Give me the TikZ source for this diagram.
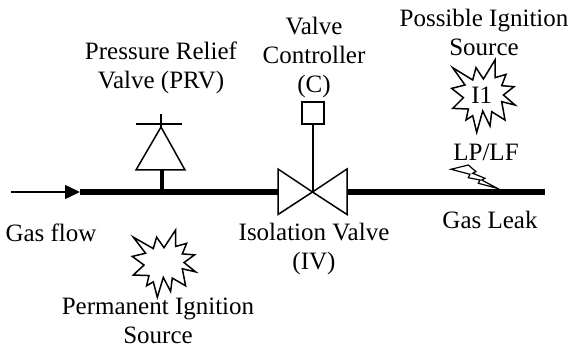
\documentclass[tikz,border=0pt]{standalone}
\usepackage{fontspec}
\setmainfont{Liberation Serif}
\usetikzlibrary{arrows.meta, calc}
\tikzset{
  label text/.style={align=center, inner sep=0pt, font=\fontsize{25}{29}\selectfont},
  thin line/.style={line width=1.5pt, line join=miter},
  pipe/.style={line width=6pt, line cap=butt},
  burst/.pic={
    \draw[thin line] (-29,-28) -- (-9,-15.7) -- (-5.7,-28) -- (1.7,-16.7) -- (13.3,-35.7) -- (13.3,-18)
      -- (24.3,-21.3) -- (20,-10) -- (32.3,-9) -- (21.7,-0.7) -- (33.3,9.3) -- (20,6) -- (23.3,24.3)
      -- (10,16) -- (8.3,30.3) -- (1,15.3) -- (-5,36.7) -- (-9,20) -- (-15.7,24.3) -- (-13.3,13.3)
      -- (-29,12.7) -- (-18.3,2) -- (-30,-7.3) -- (-16.7,-10.7) -- cycle;
  }
}

\begin{document}
\begin{tikzpicture}[x=1pt, y=-1pt]
  \useasboundingbox (0,0) rectangle (569,347);

  % pipe and flow arrow
  \coordinate (flow) at (11,192);
  \coordinate (pipeL) at (80,192);
  \coordinate (pipeR) at (545,192);
  \coordinate (valveL) at (278,192);
  \coordinate (valveR) at (347,192);
  \coordinate (valve) at (312.5,192);
  \draw[pipe] (pipeL) -- (valveL);
  \draw[pipe] (valveR) -- (pipeR);
  \draw[thin line, -{Triangle[length=15pt, width=14pt]}] (flow) -- (pipeL);

  % relief valve
  \coordinate (prvStem) at (161.5,192);
  \coordinate (prvBase) at (161.5,170);
  \coordinate (prvTop) at (161,127);
  \draw[line width=4pt] (prvStem) -- (prvBase);
  \draw[thin line] (136,170) -- (185,170) -- (prvTop) -- cycle;
  \draw[thin line] (136,124) -- (182,124);
  \draw[thin line] (161,114) -- (prvTop);

  % isolation valve and controller
  \draw[thin line] (valve) -- (278,169) -- (278,214.5) -- cycle;
  \draw[thin line] (valve) -- (347,169) -- (347,214.5) -- cycle;
  \node[draw, thin line, minimum size=22pt, inner sep=0pt] (ctrl) at (313,113) {};
  \draw[thin line] (ctrl) -- (ctrl |- valve);

  % ignition sources
  \pic at (481.7,95.7) {burst};
  \pic[yscale=0.93] at (162.3,263.2) {burst};
  \draw[line width=1.2pt, line join=miter] (451,169.3) -- (468.3,165) -- (476,171.7) -- (472.7,173.3) -- (485,178.3)
    -- (481.7,180) -- (497.3,188.3) -- (478.3,183.3) -- (480,180) -- (468.3,177.7) -- (470,174.3) -- cycle;

  \node[label text] (prvText) at (161,68) {Pressure Relief\\Valve (PRV)};
  \node[label text] (ctrlText) at (314,57) {Valve\\Controller\\(C)};
  \node[label text] (possText) at (484,32) {Possible Ignition\\Source};
  \node[label text] (i1Text) at (481.7,95.7) {I1};
  \node[label text] (lpText) at (486,152) {LP/LF};
  \node[label text] (leakText) at (490,220) {Gas Leak};
  \node[label text] (flowText) at (51,233) {Gas flow};
  \node[label text] (ivText) at (314,249) {Isolation Valve\\(IV)};
  \node[label text] (permText) at (158,320.5) {Permanent Ignition\\Source};
\end{tikzpicture}
\end{document}
